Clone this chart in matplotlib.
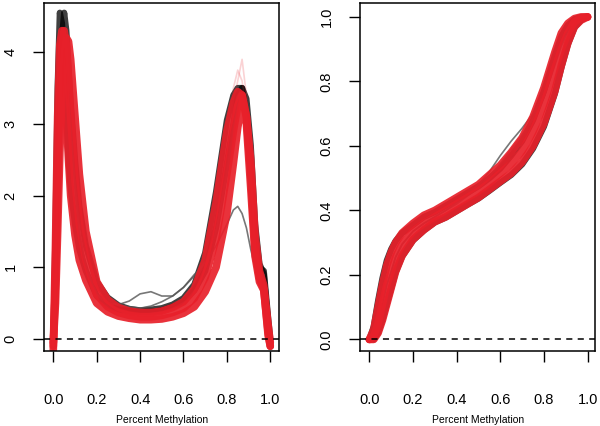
import numpy as np
import matplotlib
matplotlib.use('Agg')
import matplotlib.pyplot as plt

plt.rcParams['font.family'] = ['Liberation Sans', 'DejaVu Sans']

# ---- left panel: density of percent methylation ----
x_dens = [0.0, 0.01, 0.02, 0.03, 0.04, 0.05, 0.06, 0.07, 0.08, 0.10, 0.12, 0.15,
          0.20, 0.25, 0.30, 0.35, 0.40, 0.45, 0.50, 0.55, 0.60, 0.65, 0.70, 0.75,
          0.80, 0.83, 0.85, 0.87, 0.89, 0.91, 0.93, 0.95, 0.97, 0.99, 1.0]

red_dens = [
    [-0.15, 1.3, 3.1, 4.1, 4.3, 3.9, 3.1, 2.5, 2.0, 1.45, 1.1, 0.82,
     0.5, 0.38, 0.32, 0.29, 0.27, 0.27, 0.28, 0.31, 0.36, 0.45, 0.66, 1.0,
     1.75, 2.45, 2.95, 3.3, 3.0, 2.1, 1.15, 0.8, 0.68, 0.1, -0.1],
    [-0.1, 0.8, 2.2, 3.4, 4.1, 4.3, 4.1, 3.6, 3.1, 2.2, 1.6, 1.1,
     0.62, 0.45, 0.37, 0.33, 0.31, 0.31, 0.33, 0.37, 0.43, 0.57, 0.86, 1.4,
     2.3, 2.9, 3.25, 3.4, 3.1, 2.3, 1.25, 0.85, 0.7, 0.05, -0.1],
    [-0.05, 0.5, 1.5, 2.6, 3.4, 3.95, 4.2, 4.15, 3.9, 3.1, 2.3, 1.5,
     0.8, 0.55, 0.44, 0.39, 0.37, 0.37, 0.39, 0.44, 0.52, 0.7, 1.1, 1.9,
     2.9, 3.3, 3.45, 3.4, 3.1, 2.5, 1.45, 0.95, 0.75, 0.2, -0.05],
]

black_dens = [
    [-0.1, 1.5, 3.5, 4.55, 4.4, 3.8, 3.1, 2.5, 2.1, 1.6, 1.25, 0.95,
     0.6, 0.47, 0.41, 0.39, 0.38, 0.38, 0.4, 0.45, 0.52, 0.68, 0.95, 1.55,
     2.45, 3.0, 3.4, 3.5, 3.1, 2.3, 1.3, 1.0, 0.95, 0.3, 0.0],
    [-0.1, 0.6, 1.8, 3.2, 4.2, 4.55, 4.3, 3.8, 3.3, 2.5, 1.85, 1.3,
     0.8, 0.58, 0.47, 0.42, 0.4, 0.41, 0.43, 0.48, 0.57, 0.76, 1.2, 2.05,
     3.05, 3.4, 3.5, 3.5, 3.35, 2.7, 1.6, 1.05, 0.9, 0.2, -0.05],
]

gray_dens = [
    [-0.1, 0.8, 2.2, 3.4, 4.0, 4.2, 4.0, 3.5, 3.0, 2.1, 1.5, 1.0,
     0.62, 0.5, 0.48, 0.53, 0.63, 0.66, 0.6, 0.6, 0.72, 0.9, 1.05, 1.3,
     1.6, 1.8, 1.85, 1.75, 1.55, 1.25, 1.0, 0.95, 0.9, 0.2, -0.05],
    [-0.1, 0.8, 2.2, 3.4, 4.0, 4.2, 4.0, 3.5, 3.0, 2.1, 1.5, 1.0,
     0.62, 0.5, 0.48, 0.45, 0.43, 0.46, 0.52, 0.6, 0.72, 0.88, 1.08, 1.5,
     2.3, 2.9, 3.3, 3.4, 3.1, 2.3, 1.3, 0.95, 0.85, 0.2, -0.05],
]

pink_dens = [
    [-0.05, 0.5, 1.6, 2.8, 3.6, 4.1, 4.2, 4.0, 3.6, 2.7, 2.0, 1.35,
     0.75, 0.52, 0.43, 0.38, 0.36, 0.36, 0.38, 0.43, 0.5, 0.66, 1.0, 1.7,
     2.8, 3.5, 3.75, 3.6, 3.2, 2.4, 1.4, 0.9, 0.72, 0.15, -0.05],
    [-0.05, 0.5, 1.6, 2.8, 3.6, 4.1, 4.2, 4.0, 3.6, 2.7, 2.0, 1.35,
     0.75, 0.52, 0.43, 0.38, 0.36, 0.36, 0.38, 0.43, 0.5, 0.66, 1.0, 1.65,
     2.7, 3.3, 3.6, 3.9, 3.4, 2.5, 1.45, 0.9, 0.72, 0.15, -0.05],
]

# ---- right panel: cumulative distribution ----
x_cdf = [0.0, 0.02, 0.04, 0.06, 0.08, 0.10, 0.12, 0.15, 0.20, 0.25, 0.30, 0.35,
         0.40, 0.45, 0.50, 0.55, 0.60, 0.65, 0.70, 0.75, 0.80, 0.85, 0.88, 0.91,
         0.94, 0.97, 1.0]

red_cdf = [
    [0.0, 0.03, 0.1, 0.17, 0.23, 0.27, 0.30, 0.33, 0.36, 0.385, 0.40, 0.42,
     0.44, 0.46, 0.48, 0.51, 0.54, 0.58, 0.625, 0.69, 0.78, 0.89, 0.95, 0.98,
     0.995, 1.0, 1.0],
    [0.0, 0.01, 0.05, 0.11, 0.17, 0.21, 0.255, 0.295, 0.335, 0.36, 0.38, 0.40,
     0.42, 0.44, 0.46, 0.485, 0.515, 0.545, 0.585, 0.645, 0.73, 0.84, 0.90, 0.95,
     0.985, 0.997, 1.0],
    [0.0, 0.0, 0.02, 0.06, 0.11, 0.16, 0.21, 0.26, 0.31, 0.34, 0.365, 0.38,
     0.40, 0.42, 0.44, 0.465, 0.49, 0.515, 0.55, 0.60, 0.67, 0.77, 0.85, 0.92,
     0.97, 0.99, 1.0],
]

black_cdf = [
    [0.0, 0.04, 0.12, 0.19, 0.245, 0.28, 0.305, 0.33, 0.355, 0.38, 0.395, 0.415,
     0.435, 0.455, 0.475, 0.5, 0.53, 0.57, 0.615, 0.68, 0.77, 0.88, 0.94, 0.975,
     0.993, 1.0, 1.0],
    [0.0, 0.0, 0.02, 0.06, 0.11, 0.158, 0.207, 0.257, 0.307, 0.338, 0.363, 0.378,
     0.398, 0.418, 0.437, 0.461, 0.486, 0.51, 0.543, 0.592, 0.66, 0.762, 0.843, 0.915,
     0.967, 0.99, 1.0],
]

gray_cdf = [
    [0.0, 0.01, 0.05, 0.11, 0.17, 0.21, 0.255, 0.295, 0.335, 0.36, 0.38, 0.40,
     0.425, 0.45, 0.48, 0.52, 0.57, 0.615, 0.655, 0.70, 0.76, 0.86, 0.92, 0.96,
     0.99, 1.0, 1.0],
    [0.0, 0.01, 0.05, 0.11, 0.17, 0.21, 0.255, 0.295, 0.335, 0.36, 0.38, 0.40,
     0.42, 0.445, 0.47, 0.505, 0.545, 0.59, 0.635, 0.685, 0.75, 0.85, 0.91, 0.955,
     0.988, 1.0, 1.0],
]

RED = '#e8202a'
fig = plt.figure(figsize=(6, 4.26), dpi=100)
ax1 = fig.add_axes([0.0733, 0.176, 0.392, 0.816])
ax2 = fig.add_axes([0.600, 0.176, 0.392, 0.816])


def draw(ax, x, blacks, grays, reds, pinks):
    for y in blacks:
        ax.plot(x, y, color='black', lw=4.5, alpha=0.75, solid_capstyle='round')
    for y in grays:
        ax.plot(x, y, color='#555555', lw=1.2, alpha=0.8)
    for y in reds:
        ax.plot(x, y, color=RED, lw=5.5, alpha=0.92, solid_capstyle='round')
    for y in pinks:
        ax.plot(x, y, color=RED, lw=1.2, alpha=0.2)
    ax.axhline(0, color='black', lw=1.1, ls=(0, (4, 3.5)))


draw(ax1, x_dens, black_dens, gray_dens, red_dens, pink_dens)
draw(ax2, x_cdf, black_cdf, gray_cdf, red_cdf, [])

ax1.set_xlim(-0.043, 1.041)
ax1.set_ylim(-0.167, 4.68)
ax1.set_yticks([0, 1, 2, 3, 4])
ax2.set_xlim(-0.043, 1.035)
ax2.set_ylim(-0.036, 1.042)
ax2.set_yticks([0.0, 0.2, 0.4, 0.6, 0.8, 1.0])
ax2.set_yticklabels(['0.0', '0.2', '0.4', '0.6', '0.8', '1.0'])

for ax in (ax1, ax2):
    ax.set_xticks([0.0, 0.2, 0.4, 0.6, 0.8, 1.0])
    ax.set_xticklabels(['0.0', '0.2', '0.4', '0.6', '0.8', '1.0'])
    ax.tick_params(axis='x', direction='out', length=8, width=1, pad=22, labelsize=10.5)
    ax.tick_params(axis='y', direction='out', length=8, width=1, pad=11, labelsize=10.5)
    for lbl in ax.get_yticklabels():
        lbl.set_rotation(90)
        lbl.set_va('center')
    for s in ax.spines.values():
        s.set_linewidth(1.1)
    ax.set_xlabel('Percent Methylation', fontsize=7.5, labelpad=6)

fig.savefig('out.png', dpi=100)
